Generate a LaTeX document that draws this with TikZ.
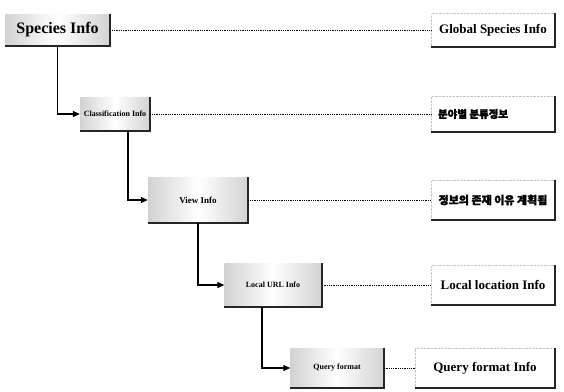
\documentclass[tikz,border=0pt]{standalone}
\usepackage{fontspec}
\setmainfont{Liberation Serif}
\newfontfamily\krfont{Noto Sans CJK KR}[FakeBold=2]
\usetikzlibrary{arrows.meta,shadings}
\begin{document}
\begin{tikzpicture}[x=1pt,y=-1pt,
  leftbox/.style={rectangle, inner sep=0pt, left color=gray!35, right color=gray!35, middle color=white,
    font=\bfseries, text=black},
  rightbox/.style={rectangle, inner sep=0pt, fill=white, draw=gray!45, densely dotted, font=\bfseries\fontsize{13}{15}\selectfont},
  link/.style={line width=1.3pt, -{Triangle[length=7pt,width=6pt]}},
  dots/.style={densely dotted, line width=0.8pt},
  edge/.style={line width=1.6pt, black!85}]
\useasboundingbox (0,0) rectangle (564,391);
% left chain
\node[leftbox, minimum width=105, minimum height=32, font=\bfseries\fontsize{16}{18}\selectfont] (s1) at (57.5,30) {Species Info};
\node[leftbox, minimum width=70, minimum height=34, font=\bfseries\fontsize{8}{9}\selectfont] (s2) at (115,114) {Classification Info};
\node[leftbox, minimum width=100, minimum height=45, font=\bfseries\fontsize{9}{10}\selectfont] (s3) at (198,200) {View Info};
\node[leftbox, minimum width=97, minimum height=44, font=\bfseries\fontsize{8}{9}\selectfont] (s4) at (273,285) {Local URL Info};
\node[leftbox, minimum width=93, minimum height=40, font=\bfseries\fontsize{8}{9}\selectfont] (s5) at (337,368) {Query format};
% right column
\node[rightbox, minimum width=123, minimum height=33] (r1) at (493,30) {Global Species Info};
\node[rightbox, minimum width=123, minimum height=36] (r2) at (493,114) {\makebox[110pt][l]{\krfont\fontsize{10.5}{12}\selectfont 분야별 분류정보}};
\node[rightbox, minimum width=123, minimum height=40] (r3) at (493,200) {\krfont\fontsize{11}{13}\selectfont 정보의 존재 이유 계획됨};
\node[rightbox, minimum width=123, minimum height=40] (r4) at (493,285) {Local location Info};
\node[rightbox, minimum width=140, minimum height=40] (r5) at (485,368) {Query format Info};
% shadow edges
\foreach \n in {s1,s2,s3,s4,s5,r1,r2,r3,r4,r5}
  \draw[edge] (\n.north east) -- (\n.south east) -- (\n.south west);
% hierarchy connectors
\draw[link] (s1.south) |- (s2.west);
\draw[link] ([xshift=13pt]s2.south) |- (s3.west);
\draw[link] (s3.south) |- (s4.west);
\draw[link] ([xshift=-11pt]s4.south) |- (s5.west);
% dotted links
\foreach \i in {1,...,5}
  \draw[dots] (s\i.east) -- (r\i.west);
\end{tikzpicture}
\end{document}
